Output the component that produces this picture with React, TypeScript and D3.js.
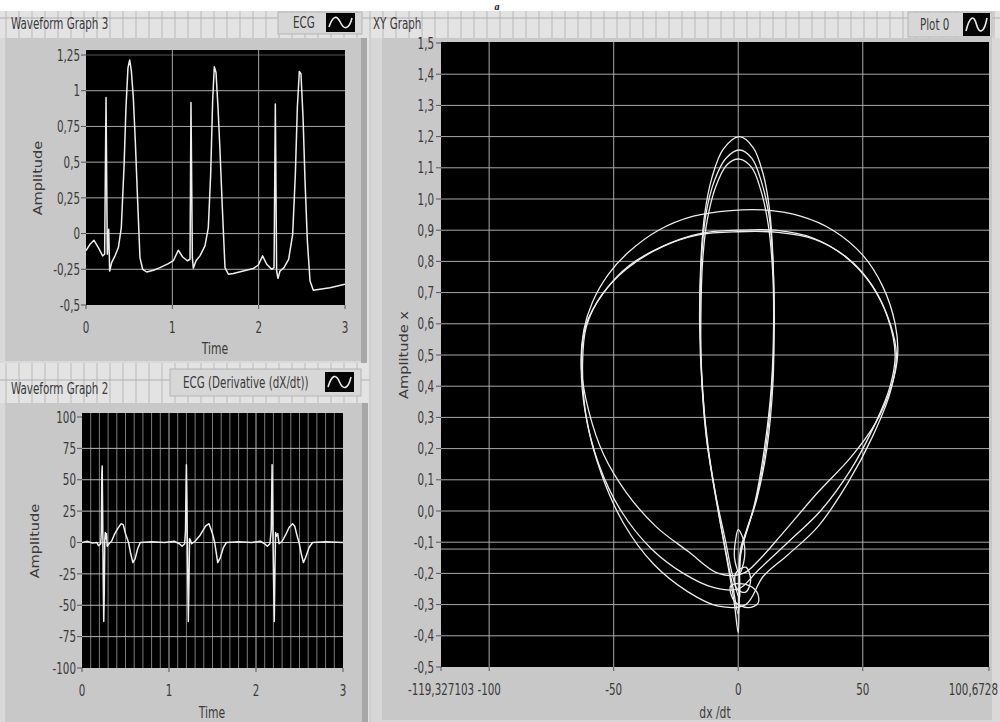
import React from 'react';
import * as d3 from 'd3';

type Pt = [number, number];

// ---- tick values / labels ----
const timeTicks = [0, 1, 2, 3];
const timeTickLabels = ['0', '1', '2', '3'];
const ecgYTicks = [-0.5, -0.25, 0, 0.25, 0.5, 0.75, 1, 1.25];
const ecgYTickLabels = ['-0,5', '-0,25', '0', '0,25', '0,5', '0,75', '1', '1,25'];
const derivYTicks = [-100, -75, -50, -25, 0, 25, 50, 75, 100];
const derivYTickLabels = ['-100', '-75', '-50', '-25', '0', '25', '50', '75', '100'];
const xyYTicks = [-0.5, -0.4, -0.3, -0.2, -0.1, 0, 0.1, 0.2, 0.3, 0.4, 0.5, 0.6, 0.7, 0.8, 0.9, 1.0, 1.1, 1.2, 1.3, 1.4, 1.5];
const xyYTickLabels = ['-0,5', '-0,4', '-0,3', '-0,2', '-0,1', '0,0', '0,1', '0,2', '0,3', '0,4', '0,5', '0,6', '0,7', '0,8', '0,9', '1,0', '1,1', '1,2', '1,3', '1,4', '1,5'];
const xyXTicks = [-119.327103, -100, -50, 0, 50, 100.6728];
const xyXTickLabels = ['-119,327103', '-100', '-50', '0', '50', '100,6728'];
const xyXGrid = [-100, -50, 0, 50];
const xyExtraLevel = -0.122;

// ---- ECG (Waveform Graph 3) ----
const ecgSignal: Pt[] = [
  [0, -0.12], [0.046, -0.075], [0.093, -0.047], [0.143, -0.098], [0.193, -0.156], [0.216, -0.145],
  [0.232, 0.953], [0.247, -0.145], [0.263, 0.03], [0.274, -0.262], [0.297, -0.203], [0.336, -0.156],
  [0.375, -0.098], [0.409, 0.042], [0.44, 0.46], [0.463, 0.88], [0.486, 1.16], [0.506, 1.215],
  [0.525, 1.14], [0.548, 0.953], [0.571, 0.65], [0.598, 0.23], [0.625, -0.168], [0.656, -0.25],
  [0.703, -0.269], [0.78, -0.257], [0.857, -0.238], [0.954, -0.21], [1.012, -0.19], [1.069, -0.117],
  [1.12, -0.164], [1.174, -0.19], [1.205, -0.18], [1.216, 0.918], [1.232, -0.168], [1.243, -0.243],
  [1.274, -0.19], [1.32, -0.156], [1.378, -0.086], [1.417, 0.042], [1.444, 0.416], [1.467, 0.93],
  [1.486, 1.168], [1.506, 1.128], [1.529, 0.883], [1.552, 0.58], [1.579, 0.182], [1.61, -0.238],
  [1.649, -0.285], [1.707, -0.28], [1.822, -0.262], [1.938, -0.245], [1.996, -0.22], [2.046, -0.156],
  [2.093, -0.215], [2.151, -0.25], [2.178, -0.238], [2.193, 0.907], [2.208, -0.262], [2.224, -0.313],
  [2.247, -0.262], [2.293, -0.238], [2.347, -0.18], [2.394, -0.005], [2.425, 0.416], [2.448, 0.883],
  [2.471, 1.135], [2.49, 1.117], [2.514, 0.813], [2.537, 0.369], [2.564, -0.051], [2.595, -0.332],
  [2.633, -0.397], [2.71, -0.39], [2.826, -0.379], [3.0, -0.355],
];

// ---- ECG derivative (Waveform Graph 2) ----
const ecgDerivative: Pt[] = [
  [0, 0], [0.06, 1], [0.12, -0.5], [0.17, 0], [0.19, -2.5], [0.215, -1], [0.222, 8], [0.228, 55],
  [0.232, 61], [0.238, 20], [0.244, -30], [0.25, -63], [0.256, -40], [0.262, 2], [0.268, 8], [0.274, 3],
  [0.282, 7], [0.29, -3], [0.31, -1], [0.34, 1], [0.37, 6], [0.41, 11], [0.45, 15], [0.475, 14],
  [0.5, 7], [0.535, 0], [0.56, -9], [0.585, -16], [0.61, -13], [0.64, -5], [0.67, 0], [0.8, 0.5],
  [0.95, 0], [1.06, 1], [1.12, -1], [1.15, -3], [1.18, -1], [1.19, 10], [1.195, 40], [1.2, 62],
  [1.206, 35], [1.212, -10], [1.222, -63], [1.23, -30], [1.236, 3], [1.245, 2], [1.26, -1], [1.3, 1],
  [1.36, 6], [1.42, 13], [1.46, 15], [1.5, 7], [1.525, 0], [1.545, -9], [1.56, -16], [1.59, -12],
  [1.625, -4], [1.66, 0], [1.8, 0.5], [1.95, 0], [2.05, 1], [2.1, -1], [2.13, -3], [2.16, -1],
  [2.175, 10], [2.185, 62], [2.19, 30], [2.2, -20], [2.21, -63], [2.218, -20], [2.225, 8], [2.235, 5],
  [2.25, 7], [2.265, -1], [2.3, 1], [2.34, 6], [2.38, 12], [2.42, 15], [2.445, 13], [2.47, 6],
  [2.495, 0], [2.52, -9], [2.545, -16], [2.57, -12], [2.61, -4], [2.65, 0], [2.8, 0.5], [3, 0],
];

// ---- XY graph loops (dx/dt, amplitude) ----
const wideLoop1: Pt[] = [
  [2, -0.2], [-8, -0.2], [-20, -0.13], [-33, -0.05], [-45, 0.06], [-54, 0.18], [-60, 0.32], [-63, 0.46],
  [-62, 0.58], [-58.5, 0.67], [-52, 0.76], [-44, 0.83], [-32, 0.9], [-18, 0.945], [-3, 0.963],
  [10, 0.965], [25, 0.945], [38, 0.9], [50, 0.82], [58, 0.72], [63, 0.6], [64, 0.5], [61.5, 0.4],
  [55, 0.28], [45, 0.17], [32, 0.06], [18, -0.07], [8, -0.16],
];
const wideLoop2: Pt[] = [
  [0, -0.25], [-10, -0.245], [-22, -0.2], [-35, -0.12], [-47, 0.0], [-56, 0.15], [-61.5, 0.32],
  [-63, 0.48], [-61, 0.6], [-54, 0.7], [-44, 0.785], [-30, 0.85], [-15, 0.89], [0, 0.9], [15, 0.9],
  [30, 0.875], [43, 0.815], [53, 0.73], [60, 0.62], [63, 0.5], [61, 0.4], [55, 0.28], [45, 0.13],
  [33, 0.0], [20, -0.1], [8, -0.19],
];
const wideLoop3: Pt[] = [
  [3, -0.3], [-8, -0.305], [-20, -0.26], [-34, -0.17], [-46, -0.04], [-55, 0.12], [-61, 0.3],
  [-62.5, 0.47], [-61, 0.59], [-55, 0.69], [-45, 0.775], [-31, 0.845], [-16, 0.885], [0, 0.895],
  [16, 0.893], [31, 0.87], [44, 0.81], [54, 0.72], [61, 0.6], [63.5, 0.5], [61, 0.38], [54, 0.24],
  [44, 0.09], [32, -0.05], [20, -0.14], [10, -0.21],
];
const tallLoop1: Pt[] = [
  [0, -0.39], [-1.5, -0.3], [-4, -0.18], [-8, 0], [-12, 0.2], [-14.5, 0.4], [-15.5, 0.6], [-15, 0.8],
  [-13.5, 0.95], [-10.5, 1.07], [-6, 1.16], [0.5, 1.2], [6, 1.165], [10, 1.08], [12.5, 0.97],
  [14, 0.8], [14.3, 0.6], [14, 0.42], [11.5, 0.2], [7.5, 0.04], [3.5, -0.06], [1, -0.12],
];
const tallLoop2: Pt[] = [
  [0, -0.33], [-2, -0.25], [-4.5, -0.15], [-8.5, 0.02], [-12.5, 0.22], [-14.5, 0.42], [-15.3, 0.6],
  [-14.8, 0.8], [-13, 0.95], [-9.5, 1.06], [-5, 1.13], [0.5, 1.157], [5.5, 1.13], [9.5, 1.05],
  [12.5, 0.94], [14, 0.78], [14.5, 0.6], [13.5, 0.4], [11, 0.2], [7, 0.03], [3, -0.07], [1, -0.14],
];
const tallLoop3: Pt[] = [
  [0.5, -0.28], [-2.5, -0.2], [-5, -0.1], [-9, 0.05], [-13, 0.25], [-14.8, 0.45], [-15, 0.62],
  [-14.3, 0.8], [-12.5, 0.93], [-9, 1.04], [-4.5, 1.11], [0.5, 1.128], [5.5, 1.1], [9, 1.03],
  [12, 0.92], [13.8, 0.77], [14.2, 0.6], [13.3, 0.4], [10.5, 0.2], [6.5, 0.02], [2.5, -0.09], [0.5, -0.15],
];
const smallLoop1: Pt[] = [[0, -0.06], [2, -0.09], [2.5, -0.15], [0.5, -0.2], [-1.5, -0.15], [-1, -0.09]];
const smallLoop2: Pt[] = [[-1, -0.2], [3, -0.18], [5, -0.22], [3, -0.26], [-0.5, -0.25]];
const smallLoop3: Pt[] = [[-3, -0.24], [3, -0.235], [7.5, -0.26], [8, -0.295], [4, -0.31], [-1.5, -0.29]];
const xyLoops = [wideLoop1, wideLoop2, wideLoop3, tallLoop1, tallLoop2, tallLoop3, smallLoop1, smallLoop2, smallLoop3];

const FONT = "'DejaVu Sans Condensed', 'Liberation Sans Narrow', sans-serif";
const TEXT = '#3a3a3a';
const STRETCH = 1.35;

function Txt({ x, y, anchor = 'start', rotate = false, size = 11.5, children }:
  { x: number; y: number; anchor?: string; rotate?: boolean; size?: number; children: React.ReactNode }) {
  return (
    <text
      transform={`translate(${x},${y}) scale(1,${STRETCH})${rotate ? ' rotate(-90)' : ''}`}
      textAnchor={anchor}
      dominantBaseline="central"
      fontFamily={FONT}
      fontSize={size}
      fill={TEXT}
    >
      {children}
    </text>
  );
}

function LegendIcon({ x, y, w, h }: { x: number; y: number; w: number; h: number }) {
  return (
    <g>
      <rect x={x} y={y} width={w} height={h} fill="#050505" />
      <path
        d={`M${x + 3},${y + h - 5} C${x + 7},${y + 2} ${x + 11},${y + 2} ${x + w / 2},${y + h / 2} S${x + w - 6},${y + h - 2} ${x + w - 3},${y + 5}`}
        fill="none"
        stroke="#e8e8e8"
        strokeWidth={1.6}
      />
    </g>
  );
}

export default function App() {
  // scales
  const x1 = d3.scaleLinear().domain([0, 3]).range([86, 345]);
  const y1 = d3.scaleLinear().domain([-0.5, 1.25]).range([305, 55]);
  const x2 = d3.scaleLinear().domain([0, 3]).range([82, 343]);
  const y2 = d3.scaleLinear().domain([-100, 100]).range([668, 417]);
  const x3 = d3.scaleLinear().domain([-119.327103, 100.6728]).range([441, 989]);
  const y3 = d3.scaleLinear().domain([-0.5, 1.5]).range([667, 43]);

  const ecgLine = d3.line<Pt>().x((d) => x1(d[0])).y((d) => y1(d[1]));
  const derivLine = d3.line<Pt>().x((d) => x2(d[0])).y((d) => y2(d[1]));
  const loopLine = d3.line<Pt>().x((d) => x3(d[0])).y((d) => y3(d[1])).curve(d3.curveCatmullRomClosed.alpha(0.5));

  const minorTimes = d3.range(1, 30).map((i) => i / 10);
  const bgGridX = d3.range(0, 1000, 13);

  const p1 = { l: 86, r: 345, t: 50, b: 305 };
  const p2 = { l: 82, r: 343, t: 413, b: 668 };
  const p3 = { l: 441, r: 989, t: 42, b: 667 };

  return (
    <svg width={1000} height={722} style={{ position: 'absolute', left: 0, top: 0, display: 'block' }}>
      <defs>
        <clipPath id="c1"><rect x={p1.l} y={p1.t} width={p1.r - p1.l} height={p1.b - p1.t} /></clipPath>
        <clipPath id="c2"><rect x={p2.l} y={p2.t} width={p2.r - p2.l} height={p2.b - p2.t} /></clipPath>
        <clipPath id="c3"><rect x={p3.l} y={p3.t} width={p3.r - p3.l} height={p3.b - p3.t} /></clipPath>
      </defs>

      {/* front panel background with grid */}
      <rect x={0} y={0} width={1000} height={722} fill="#ffffff" />
      <rect x={0} y={11} width={1000} height={711} fill="#e3e3e3" />
      {bgGridX.map((gx) => (
        <line key={gx} x1={gx + 6} x2={gx + 6} y1={11} y2={722} stroke="#b9b9b9" strokeWidth={1} />
      ))}
      <line x1={0} x2={1000} y1={18} y2={18} stroke="#b0b0b0" />
      <line x1={0} x2={370} y1={380} y2={380} stroke="#b0b0b0" />
      <text x={497} y={10} textAnchor="middle" fontFamily="'Liberation Serif', serif" fontStyle="italic" fontWeight="bold" fontSize={10} fill="#111">a</text>

      {/* ---------- panels ---------- */}
      <rect x={0} y={38} width={366} height={325} fill="#d9d9d9" />
      <rect x={5} y={38} width={357} height={323} fill="#c8c8c8" />
      <rect x={361} y={38} width={6} height={325} fill="#a7a7a7" />

      <rect x={0} y={403} width={368} height={319} fill="#d9d9d9" />
      <rect x={5} y={403} width={357} height={319} fill="#c8c8c8" />
      <rect x={362} y={403} width={6} height={319} fill="#a7a7a7" />

      <rect x={371} y={38} width={629} height={684} fill="#d7d7d7" />
      <rect x={382} y={38} width={610} height={682} fill="#c8c8c8" />
      <rect x={992} y={38} width={8} height={684} fill="#d9d9d9" />

      {/* captions and legends */}
      <Txt x={11} y={23}>Waveform Graph 3</Txt>
      <rect x={278} y={12} width={84} height={22} fill="#d7d7d7" stroke="#b4b4b4" />
      <Txt x={293} y={22}>ECG</Txt>
      <LegendIcon x={326} y={13} w={29} h={19} />

      <Txt x={11} y={388}>Waveform Graph 2</Txt>
      <rect x={170} y={369} width={191} height={27} fill="#d7d7d7" stroke="#b4b4b4" />
      <Txt x={183} y={382}>ECG (Derivative (dX/dt))</Txt>
      <LegendIcon x={325} y={372} w={29} h={20} />

      <Txt x={373} y={23}>XY Graph</Txt>
      <rect x={908} y={12} width={84} height={25} fill="#d7d7d7" stroke="#b4b4b4" />
      <Txt x={920} y={24}>Plot 0</Txt>
      <LegendIcon x={963} y={13} w={27} h={23} />

      {/* ---------- Waveform Graph 3 ---------- */}
      <rect x={p1.l} y={p1.t} width={p1.r - p1.l} height={p1.b - p1.t} fill="#000" />
      <g stroke="#a8a8a8" strokeWidth={1}>
        {ecgYTicks.slice(1, -1).map((v) => (
          <line key={v} x1={p1.l} x2={p1.r} y1={y1(v)} y2={y1(v)} />
        ))}
        <line x1={p1.l} x2={p1.r} y1={y1(1.25)} y2={y1(1.25)} stroke="#555" />
        {timeTicks.slice(1, -1).map((v) => (
          <line key={v} x1={x1(v)} x2={x1(v)} y1={p1.t} y2={p1.b} />
        ))}
      </g>
      <path d={ecgLine(ecgSignal) || ''} clipPath="url(#c1)" fill="none" stroke="#eeeeee" strokeWidth={1.5} strokeLinejoin="round" />
      {ecgYTicks.map((v, i) => (
        <g key={v}>
          <line x1={p1.l - 5} x2={p1.l} y1={y1(v)} y2={y1(v)} stroke="#555" />
          <Txt x={p1.l - 6} y={y1(v)} anchor="end">{ecgYTickLabels[i]}</Txt>
        </g>
      ))}
      {timeTicks.map((v, i) => (
        <g key={v}>
          <line x1={x1(v)} x2={x1(v)} y1={p1.b} y2={p1.b + 4} stroke="#555" />
          <Txt x={x1(v)} y={327} anchor="middle">{timeTickLabels[i]}</Txt>
        </g>
      ))}
      <Txt x={215} y={348} anchor="middle" size={12}>Time</Txt>
      <Txt x={38} y={178} anchor="middle" rotate size={12}>Amplitude</Txt>

      {/* ---------- Waveform Graph 2 ---------- */}
      <rect x={p2.l} y={p2.t} width={p2.r - p2.l} height={p2.b - p2.t} fill="#000" />
      <g strokeWidth={1}>
        {minorTimes.map((v) => (
          <line key={v} x1={x2(v)} x2={x2(v)} y1={p2.t} y2={p2.b}
            stroke={Math.abs(v - Math.round(v)) < 1e-6 ? '#b4b4b4' : '#7c7c7c'} />
        ))}
        {derivYTicks.slice(1, -1).map((v) => (
          <line key={v} x1={p2.l} x2={p2.r} y1={y2(v)} y2={y2(v)} stroke="#b4b4b4" />
        ))}
      </g>
      <path d={derivLine(ecgDerivative) || ''} clipPath="url(#c2)" fill="none" stroke="#eeeeee" strokeWidth={1.5} strokeLinejoin="round" />
      {derivYTicks.map((v, i) => (
        <g key={v}>
          <line x1={p2.l - 5} x2={p2.l} y1={y2(v)} y2={y2(v)} stroke="#555" />
          <Txt x={p2.l - 6} y={y2(v)} anchor="end">{derivYTickLabels[i]}</Txt>
        </g>
      ))}
      {timeTicks.map((v, i) => (
        <g key={v}>
          <line x1={x2(v)} x2={x2(v)} y1={p2.b} y2={p2.b + 4} stroke="#555" />
          <Txt x={x2(v)} y={690} anchor="middle">{timeTickLabels[i]}</Txt>
        </g>
      ))}
      <Txt x={212} y={712} anchor="middle" size={12}>Time</Txt>
      <Txt x={35} y={541} anchor="middle" rotate size={12}>Amplitude</Txt>

      {/* ---------- XY Graph ---------- */}
      <rect x={p3.l} y={p3.t} width={p3.r - p3.l} height={p3.b - p3.t} fill="#000" />
      <g stroke="#a9a9a9" strokeWidth={1}>
        {xyYTicks.slice(1, -1).map((v) => (
          <line key={v} x1={p3.l} x2={p3.r} y1={y3(v)} y2={y3(v)} />
        ))}
        <line x1={p3.l} x2={p3.r} y1={y3(xyExtraLevel)} y2={y3(xyExtraLevel)} />
        {xyXGrid.map((v) => (
          <line key={v} x1={x3(v)} x2={x3(v)} y1={p3.t} y2={p3.b} />
        ))}
      </g>
      <g clipPath="url(#c3)">
        {xyLoops.map((loop, i) => (
          <path key={i} d={loopLine(loop) || ''} fill="none" stroke="#ececec" strokeWidth={1.3} />
        ))}
      </g>
      {xyYTicks.map((v, i) => (
        <g key={v}>
          <line x1={p3.l - 5} x2={p3.l} y1={y3(v)} y2={y3(v)} stroke="#555" />
          <Txt x={p3.l - 7} y={y3(v)} anchor="end">{xyYTickLabels[i]}</Txt>
        </g>
      ))}
      {xyXTicks.map((v, i) => {
        const last = i === xyXTicks.length - 1;
        return (
          <g key={v}>
            <line x1={x3(v)} x2={x3(v)} y1={p3.b} y2={p3.b + 4} stroke="#555" />
            <Txt x={last ? 998 : x3(v)} y={689} anchor={last ? 'end' : 'middle'}>{xyXTickLabels[i]}</Txt>
          </g>
        );
      })}
      <Txt x={715} y={712} anchor="middle" size={12}>dx /dt</Txt>
      <Txt x={404} y={355} anchor="middle" rotate size={12}>Amplitude x</Txt>
    </svg>
  );
}
